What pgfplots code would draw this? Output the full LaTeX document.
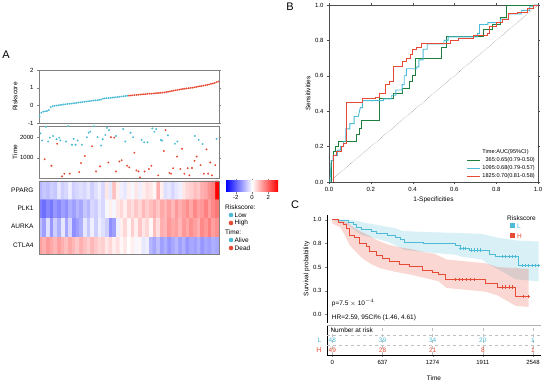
\documentclass[border=0pt]{standalone}
\usepackage{fontspec}
\setmainfont{Liberation Sans}
\usepackage{pgfplots}
\pgfplotsset{compat=1.18}
\definecolor{cL}{HTML}{4DBBD5}
\definecolor{cH}{HTML}{E64B35}
\definecolor{cG}{HTML}{1E7F3E}
\begin{document}
\begin{tikzpicture}[font=\fontsize{6}{7}\selectfont]
\useasboundingbox (0,0) rectangle (550pt,385pt);
\pgfplotsset{
 every axis/.append style={scale only axis,
   /pgf/number format/assume math mode=true,
   /pgf/number format/1000 sep={},
   tick label style={font=\fontsize{6}{7}\selectfont},
   label style={font=\fontsize{6.5}{8}\selectfont},
   major tick length=2pt, tick align=outside},
}
% ---------------- Panel A: riskscore ----------------
\node[font=\fontsize{11}{13}\selectfont] at (6pt,330pt) {A};
\begin{axis}[at={(39pt,262pt)}, anchor=south west, width=180pt, height=53pt,
 xmin=0.7, xmax=97.3, ymin=-1, ymax=2, ytick={-1,0,1,2}, xtick=\empty,
 axis line style={gray}, ytick style={gray},
 ylabel={Riskscore}, ylabel style={at={(axis description cs:-0.133,0.5)}, anchor=center}]
\addplot[only marks, mark=*, mark size=0.7pt, cL] coordinates {
(1,-0.62)(2,-0.42)(3,-0.36)(4,-0.34)(5,-0.33)(6,-0.26)(7,-0.10)(8,-0.05)(9,-0.03)(10,-0.01)
(11,0.00)(12,0.02)(13,0.03)(14,0.05)(15,0.06)(16,0.08)(17,0.09)(18,0.10)(19,0.11)(20,0.13)
(21,0.14)(22,0.16)(23,0.17)(24,0.19)(25,0.20)(26,0.21)(27,0.23)(28,0.24)(29,0.26)(30,0.27)
(31,0.28)(32,0.29)(33,0.30)(34,0.32)(35,0.38)(36,0.39)(37,0.40)(38,0.41)(39,0.42)(40,0.44)
(41,0.45)(42,0.46)(43,0.47)(44,0.49)(45,0.50)(46,0.51)(47,0.52)(48,0.54)};
\addplot[only marks, mark=*, mark size=0.7pt, cH] coordinates {
(49,0.55)(50,0.56)(51,0.57)(52,0.58)(53,0.59)(54,0.60)(55,0.61)(56,0.62)(57,0.63)(58,0.64)
(59,0.65)(60,0.66)(61,0.66)(62,0.67)(63,0.68)(64,0.69)(65,0.70)(66,0.71)(67,0.72)(68,0.73)
(69,0.75)(70,0.77)(71,0.79)(72,0.81)(73,0.83)(74,0.85)(75,0.87)(76,0.89)(77,0.91)(78,0.93)
(79,0.94)(80,0.96)(81,0.97)(82,0.99)(83,1.00)(84,1.02)(85,1.04)(86,1.06)(87,1.08)(88,1.10)
(89,1.12)(90,1.14)(91,1.16)(92,1.18)(93,1.21)(94,1.24)(95,1.27)(96,1.31)(97,1.35)};
\end{axis}
% ---------------- Panel A: time ----------------
\begin{axis}[at={(39pt,207pt)}, anchor=south west, width=180pt, height=52pt,
 xmin=0.7, xmax=97.3, ymin=0, ymax=2550, ytick={1000,2000}, xtick=\empty,
 axis line style={gray}, ytick style={gray},
 ylabel={Time}, ylabel style={at={(axis description cs:-0.133,0.5)}, anchor=center}]
\addplot[only marks, mark=*, mark size=0.75pt, cL] coordinates {
(1.5,2190)(2.4,1840)(4.5,2510)(5.6,1790)(6.5,1980)(8.3,2060)(10.1,1900)(11.6,1980)(12.2,1840)
(15.2,1790)(16.4,2540)(18.4,1630)(19.3,1920)(20.3,1630)(21.4,1840)(23.7,1630)(26.4,2000)
(27.3,2220)(28.2,2270)(30.3,2540)(32.1,2000)(34.0,1590)(34.9,1900)(36.3,2110)(37.2,2460)
(38.3,2350)(42.0,2060)(45.9,2400)(47.0,1790)(49.8,2220)(51.2,2000)(55.8,1870)(57.1,1750)
(58.9,1750)(61.5,2430)(62.6,2270)(63.6,2400)(66.1,1870)(66.8,1830)(69.9,2095)(73.6,1680)
(75.0,1790)(84.3,2060)(86.4,1870)(88.5,1670)(96.0,1920)};
\addplot[only marks, mark=*, mark size=0.75pt, cH] coordinates {
(3.7,920)(7.4,600)(10.4,1680)(13.1,80)(14.3,210)(17.2,210)(22.3,290)(23.2,730)(25.3,1080)
(29.2,1560)(31.3,320)(33.5,570)(37.9,760)(39.3,2000)(41.1,1980)(42.0,320)(43.8,810)(45.0,870)
(48.0,600)(49.1,520)(51.9,1240)(53.0,370)(54.1,320)(54.9,30)(57.4,320)(59.7,440)(61.0,600)
(64.7,130)(67.7,1320)(68.6,2350)(70.7,250)(71.6,210)(72.7,480)(74.8,1050)(76.6,440)(77.5,1430)
(78.7,210)(80.5,480)(81.4,130)(82.8,490)(84.2,840)(85.3,1050)(87.4,630)(89.2,210)(90.6,1400)
(91.5,210)(92.6,760)(93.5,130)(95.3,630)};
\end{axis}
% ---------------- Panel A: heatmap ----------------
\begin{axis}[at={(39pt,131pt)}, anchor=south west, width=180pt, height=73pt,
 xmin=-0.5, xmax=48.5, ymin=-0.5, ymax=3.5, xtick=\empty,
 ytick={0,1,2,3}, yticklabels={CTLA4,AURKA,PLK1,PPARG}, ytick style={draw=none},
 yticklabel style={font=\fontsize{6.5}{8}\selectfont},
 axis line style={gray}, axis on top,
 colormap={bwr}{rgb255=(0,0,255) rgb255=(255,255,255) rgb255=(255,0,0)},
 point meta min=-3.2, point meta max=3.2]
\addplot[matrix plot*, mesh/cols=49, point meta=explicit] table[row sep=\\,
 x expr={\coordindex-49*floor((\coordindex+0.5)/49)},
 y expr={floor((\coordindex+0.5)/49)}, meta=v] {v\\
1.2\\1.0\\1.3\\1.1\\0.9\\1.2\\1.0\\0.8\\1.1\\0.9\\0.7\\1.0\\0.8\\0.6\\0.9\\0.7\\0.5\\0.6\\0.3\\0.5\\0.2\\0.4\\0.1\\0.3\\0.0\\0.2\\-0.1\\0.1\\-0.3\\-0.2\\-0.9\\-1.1\\-0.8\\-1.2\\-1.0\\-1.3\\-1.1\\-0.9\\-1.2\\-1.0\\-1.3\\-1.1\\-1.2\\-1.0\\-1.3\\-1.1\\-1.2\\-1.0\\-1.1\\
-0.8\\-1.2\\-0.4\\-1.3\\-0.6\\-1.0\\-0.3\\-1.1\\-0.5\\-1.4\\-1.2\\-1.0\\-0.3\\-0.7\\-0.2\\-0.6\\-0.2\\-0.4\\-0.6\\-1.4\\-1.2\\-0.2\\0.2\\0.5\\0.1\\0.6\\0.2\\0.7\\0.3\\0.5\\0.1\\0.8\\0.4\\1.0\\0.9\\1.3\\1.1\\1.2\\0.9\\1.3\\1.1\\1.4\\1.2\\1.0\\1.5\\1.3\\1.6\\1.2\\1.4\\
-1.6\\-1.8\\-1.5\\-1.7\\-1.3\\-1.5\\-1.2\\-1.4\\-1.0\\-1.2\\-0.9\\-1.1\\-0.7\\-0.9\\-0.5\\-0.6\\-0.3\\-0.5\\-0.1\\0.2\\-0.1\\0.3\\0.5\\0.2\\0.6\\0.4\\0.7\\0.5\\0.9\\0.6\\0.8\\1.0\\0.7\\1.1\\0.9\\1.2\\0.9\\1.3\\1.0\\1.2\\1.4\\1.1\\1.5\\1.2\\1.3\\1.6\\1.2\\1.5\\1.7\\
-0.9\\-0.7\\-0.8\\-0.6\\-0.7\\-0.3\\-0.6\\-0.5\\-0.2\\-0.6\\-0.5\\-0.4\\-0.5\\-0.3\\-0.6\\-0.4\\-0.2\\-0.5\\0.3\\-0.3\\0.8\\0.2\\-0.2\\-0.3\\0.2\\-0.1\\0.3\\-0.2\\0.2\\0.4\\0.3\\0.1\\1.0\\0.2\\-0.4\\-0.3\\-0.5\\-0.3\\-0.2\\0.3\\0.5\\0.6\\0.8\\0.7\\1.0\\1.1\\1.4\\1.6\\3.2\\
};
\end{axis}
% colour scale of the heatmap
\begin{axis}[at={(226pt,193pt)}, anchor=south west, width=52pt, height=11pt,
 xmin=-3.2, xmax=3.2, ymin=0, ymax=1, xtick={-2,0,2}, ytick=\empty,
 axis line style={draw=none}, xtick style={gray},
 xticklabel style={inner sep=1pt}]
\shade[left color=blue, right color=red, middle color=white] (axis cs:-3.2,0) rectangle (axis cs:3.2,1);
\end{axis}
% legend A
\begin{scope}[font=\fontsize{6.5}{8}\selectfont]
\node[anchor=west, inner sep=0pt] at (225pt,178pt) {Riskscore:};
\fill[cL] (231pt,170pt) circle (2.3pt); \node[anchor=west, inner sep=0pt] at (234.5pt,170pt) {Low};
\fill[cH] (231pt,162pt) circle (2.3pt); \node[anchor=west, inner sep=0pt] at (234.5pt,162pt) {High};
\node[anchor=west, inner sep=0pt] at (225pt,153pt) {Time:};
\fill[cL] (231pt,145pt) circle (2.3pt); \node[anchor=west, inner sep=0pt] at (234.5pt,145pt) {Alive};
\fill[cH] (231pt,137pt) circle (2.3pt); \node[anchor=west, inner sep=0pt] at (234.5pt,137pt) {Dead};
\end{scope}
% ---------------- Panel B: ROC ----------------
\node[font=\fontsize{11}{13}\selectfont] at (290pt,378pt) {B};
\begin{axis}[at={(329pt,203pt)}, anchor=south west, width=209pt, height=177pt,
 xmin=0, xmax=1, ymin=0, ymax=1,
 xtick={0,0.2,0.4,0.6,0.8,1}, ytick={0,0.2,0.4,0.6,0.8,1},
 ticklabel style={/pgf/number format/.cd, fixed, fixed zerofill, precision=1},
 axis line style={gray!60!black}, tick style={gray!60!black},
 xlabel={1-Specificities}, ylabel={Sensitivities},
 xlabel style={at={(axis description cs:0.5,-0.10)}, anchor=center},
 ylabel style={at={(axis description cs:-0.10,0.5)}, anchor=center},
 legend cell align=left,
 legend style={at={(1,0)}, anchor=south east, draw=none, fill=none,
   font=\fontsize{5.6}{6.4}\selectfont, row sep=-1.6pt, inner sep=1pt},
 legend image code/.code={\draw[#1] (0pt,0pt) -- (13pt,0pt);}]
\addlegendimage{empty legend}\addlegendentry{Time:AUC(95\%CI)}
\addplot[gray!70!black, densely dotted, forget plot] coordinates {(0,0)(1,1)};
\addplot[cG, line width=0.9pt] coordinates {(0,0)(0.013,0)(0.013,0.12)(0.02,0.12)(0.02,0.17)(0.03,0.17)(0.03,0.2)(0.045,0.2)(0.045,0.23)(0.13,0.23)(0.13,0.27)(0.145,0.27)(0.145,0.30)(0.155,0.30)(0.155,0.35)(0.24,0.35)(0.24,0.47)(0.31,0.47)(0.31,0.50)(0.35,0.50)(0.35,0.53)(0.385,0.53)(0.385,0.57)(0.40,0.57)(0.40,0.60)(0.415,0.60)(0.415,0.70)(0.54,0.70)(0.54,0.76)(0.56,0.76)(0.56,0.82)(0.74,0.82)(0.74,0.86)(0.78,0.86)(0.78,0.89)(0.82,0.89)(0.82,0.93)(0.85,0.93)(0.85,1.0)(1,1)};
\addlegendentry{\phantom{1}365:0.65(0.79-0.50)}
\addplot[cL, line width=0.9pt] coordinates {(0,0)(0.005,0)(0.01,0.12)(0.02,0.12)(0.02,0.15)(0.04,0.15)(0.04,0.18)(0.055,0.18)(0.055,0.2)(0.07,0.2)(0.07,0.23)(0.08,0.23)(0.08,0.3)(0.1,0.3)(0.1,0.33)(0.12,0.33)(0.12,0.37)(0.14,0.37)(0.15,0.42)(0.16,0.42)(0.16,0.46)(0.26,0.46)(0.26,0.47)(0.3,0.47)(0.3,0.49)(0.32,0.49)(0.32,0.52)(0.35,0.52)(0.35,0.55)(0.36,0.55)(0.36,0.6)(0.37,0.6)(0.37,0.64)(0.42,0.64)(0.42,0.65)(0.43,0.65)(0.43,0.69)(0.45,0.69)(0.45,0.75)(0.47,0.75)(0.47,0.78)(0.55,0.78)(0.55,0.8)(0.57,0.8)(0.57,0.82)(0.71,0.82)(0.71,0.84)(0.72,0.84)(0.72,0.89)(0.76,0.89)(0.76,0.9)(0.82,0.9)(0.82,0.92)(0.86,0.92)(0.86,0.95)(0.92,0.95)(0.92,0.97)(0.96,0.97)(0.96,0.99)(0.98,0.99)(0.98,1)(1,1)};
\addlegendentry{1095:0.68(0.79-0.57)}
\addplot[cH, line width=0.9pt] coordinates {(0,0)(0.02,0)(0.02,0.15)(0.035,0.15)(0.035,0.17)(0.06,0.17)(0.06,0.2)(0.07,0.2)(0.07,0.22)(0.085,0.22)(0.085,0.45)(0.16,0.45)(0.16,0.47)(0.22,0.47)(0.22,0.48)(0.24,0.48)(0.24,0.5)(0.27,0.5)(0.27,0.55)(0.29,0.55)(0.29,0.57)(0.31,0.57)(0.31,0.65)(0.35,0.65)(0.35,0.68)(0.37,0.68)(0.37,0.7)(0.39,0.7)(0.39,0.72)(0.40,0.72)(0.40,0.75)(0.42,0.75)(0.42,0.76)(0.44,0.76)(0.44,0.78)(0.58,0.78)(0.58,0.8)(0.62,0.8)(0.62,0.81)(0.69,0.81)(0.69,0.83)(0.76,0.83)(0.76,0.84)(0.77,0.84)(0.77,0.88)(0.8,0.88)(0.8,0.9)(0.83,0.9)(0.83,0.92)(0.86,0.92)(0.86,0.95)(0.9,0.95)(0.9,0.96)(0.95,0.96)(0.95,0.98)(0.98,0.98)(0.98,1)(1,1)};
\addlegendentry{1825:0.70(0.81-0.58)}
\end{axis}
% ---------------- Panel C: KM ----------------
\node[font=\fontsize{11}{13}\selectfont] at (295pt,180pt) {C};
\begin{axis}[at={(327pt,62pt)}, anchor=south west, width=214pt, height=108pt,
 xmin=-68, xmax=2650, ymin=-0.09, ymax=1.05,
 axis y line*=left, axis x line*=bottom, x axis line style={draw=none}, xtick=\empty,
 ytick={0,0.25,0.5,0.75,1}, yticklabels={0.0,0.3,0.5,0.8,1.0},
 ylabel={Survival probability},
 ylabel style={at={(axis description cs:-0.095,0.5)}, anchor=center}]
\addplot[draw=none, fill=cL, fill opacity=0.22] coordinates {
(0,1)(200,1)(300,0.99)(400,0.97)(600,0.94)(800,0.91)(900,0.88)(1200,0.87)(1600,0.86)(1900,0.85)(2000,0.83)(2100,0.81)(2350,0.78)(2620,0.77)
(2620,0.35)(2330,0.37)(2080,0.49)(2000,0.52)(1950,0.55)(1900,0.58)(1650,0.61)(1560,0.63)(1150,0.66)(920,0.68)(800,0.73)(700,0.77)(500,0.81)(370,0.84)(300,0.88)(200,0.94)(100,0.97)(0,1)};
\addplot[draw=none, fill=cH, fill opacity=0.22] coordinates {
(0,1)(100,1)(200,0.97)(250,0.93)(350,0.88)(450,0.84)(550,0.79)(700,0.74)(850,0.71)(1000,0.69)(1150,0.66)(1300,0.64)(1450,0.58)(1950,0.54)(2100,0.50)(2330,0.49)(2493,0.48)
(2493,0.08)(2330,0.09)(2100,0.20)(1950,0.24)(1450,0.28)(1350,0.35)(1200,0.38)(1000,0.42)(800,0.45)(600,0.49)(500,0.53)(400,0.58)(300,0.66)(220,0.73)(150,0.85)(100,0.92)(0,0.96)};
\addplot[cL, const plot, line width=0.6pt] coordinates {
(0,1)(80,0.99)(200,0.97)(260,0.95)(300,0.92)(370,0.90)(500,0.88)(560,0.86)(700,0.84)(800,0.81)(860,0.79)(920,0.76)(1150,0.75)(1560,0.73)(1620,0.70)(1740,0.68)(1988,0.64)(2072,0.61)(2367,0.52)(2641,0.52)};
\addplot[cH, const plot, line width=0.6pt] coordinates {
(0,1)(72,0.975)(135,0.947)(177,0.91)(219,0.84)(282,0.81)(345,0.75)(430,0.72)(472,0.67)(556,0.62)(640,0.59)(724,0.56)(851,0.53)(977,0.51)(1146,0.47)(1272,0.45)(1350,0.42)(1440,0.37)(1946,0.33)(2093,0.29)(2325,0.19)(2493,0.19)};
\addplot[cL, only marks, mark=+, mark size=1.6pt, line width=0.4pt] coordinates {
(1630,0.70)(1660,0.70)(1690,0.70)(1760,0.68)(1800,0.68)(1840,0.68)(1880,0.68)(2156,0.61)(2198,0.61)(2240,0.61)(2283,0.61)(2325,0.61)(2409,0.52)(2451,0.52)(2493,0.52)(2535,0.52)(2577,0.52)(2620,0.52)};
\addplot[cH, only marks, mark=+, mark size=1.6pt, line width=0.4pt] coordinates {
(1560,0.37)(1610,0.37)(1650,0.37)(1700,0.37)(1750,0.37)(1800,0.37)(2156,0.29)(2198,0.29)(2240,0.29)(2283,0.29)(2430,0.19)(2490,0.19)};
\node[anchor=west, font=\fontsize{6.5}{8}\selectfont] at (axis cs:-50,0.121) {p=7.5 $\times$ 10$^{-4}$};
\node[anchor=west, font=\fontsize{6.5}{8}\selectfont] at (axis cs:-50,-0.037) {HR=2.59, 95CI\% (1.46, 4.61)};
\end{axis}
% legend C
\begin{scope}[font=\fontsize{6.5}{8}\selectfont]
\node[anchor=west, inner sep=0pt] at (507pt,167pt) {Riskscore};
\fill[cL] (510pt,157pt) rectangle (514.5pt,161.5pt); \node[anchor=west, inner sep=0pt, text=cL] at (517pt,159pt) {L};
\fill[cH] (510pt,147pt) rectangle (514.5pt,151.5pt); \node[anchor=west, inner sep=0pt, text=cH] at (517pt,149pt) {H};
\end{scope}
% ---------------- Panel C: risk table ----------------
\begin{axis}[at={(327pt,30pt)}, anchor=south west, width=214pt, height=30pt,
 xmin=-68, xmax=2650, ymin=0, ymax=3,
 axis x line*=bottom, axis y line*=left,
 xtick={0,637,1274,1911,2548}, xmajorgrids,
 ytick={0.5,1.5}, yticklabels={\textcolor{cH}{H},\textcolor{cL}{L}}, ytick style={draw=none},
 yticklabel style={font=\fontsize{7}{8}\selectfont},
 extra y ticks={1,2}, extra y tick labels={}, extra y tick style={grid=major, tick style={draw=none}},
 major grid style={gray!50, dashed},
 xlabel={Time}, xlabel style={at={(axis description cs:0.5,-0.77)}, anchor=center}]
\draw[gray!60] (rel axis cs:0,1) -- (rel axis cs:1,1);
\node[anchor=west, font=\fontsize{6.5}{8}\selectfont] at (rel axis cs:0.0,0.83) {Number at risk};
\addplot[draw=none, mark=none, nodes near coords, point meta=explicit symbolic,
 nodes near coords align=center,
 every node near coord/.append style={anchor=center, text=cL, font=\fontsize{6.5}{8}\selectfont}]
 coordinates {(0,1.5)[48] (637,1.5)[39] (1274,1.5)[34] (1911,1.5)[20] (2548,1.5)[1]};
\addplot[draw=none, mark=none, nodes near coords, point meta=explicit symbolic,
 nodes near coords align=center,
 every node near coord/.append style={anchor=center, text=cH, font=\fontsize{6.5}{8}\selectfont}]
 coordinates {(0,0.5)[49] (637,0.5)[28] (1274,0.5)[21] (1911,0.5)[8] (2548,0.5)[1]};
\end{axis}
\end{tikzpicture}
\end{document}
